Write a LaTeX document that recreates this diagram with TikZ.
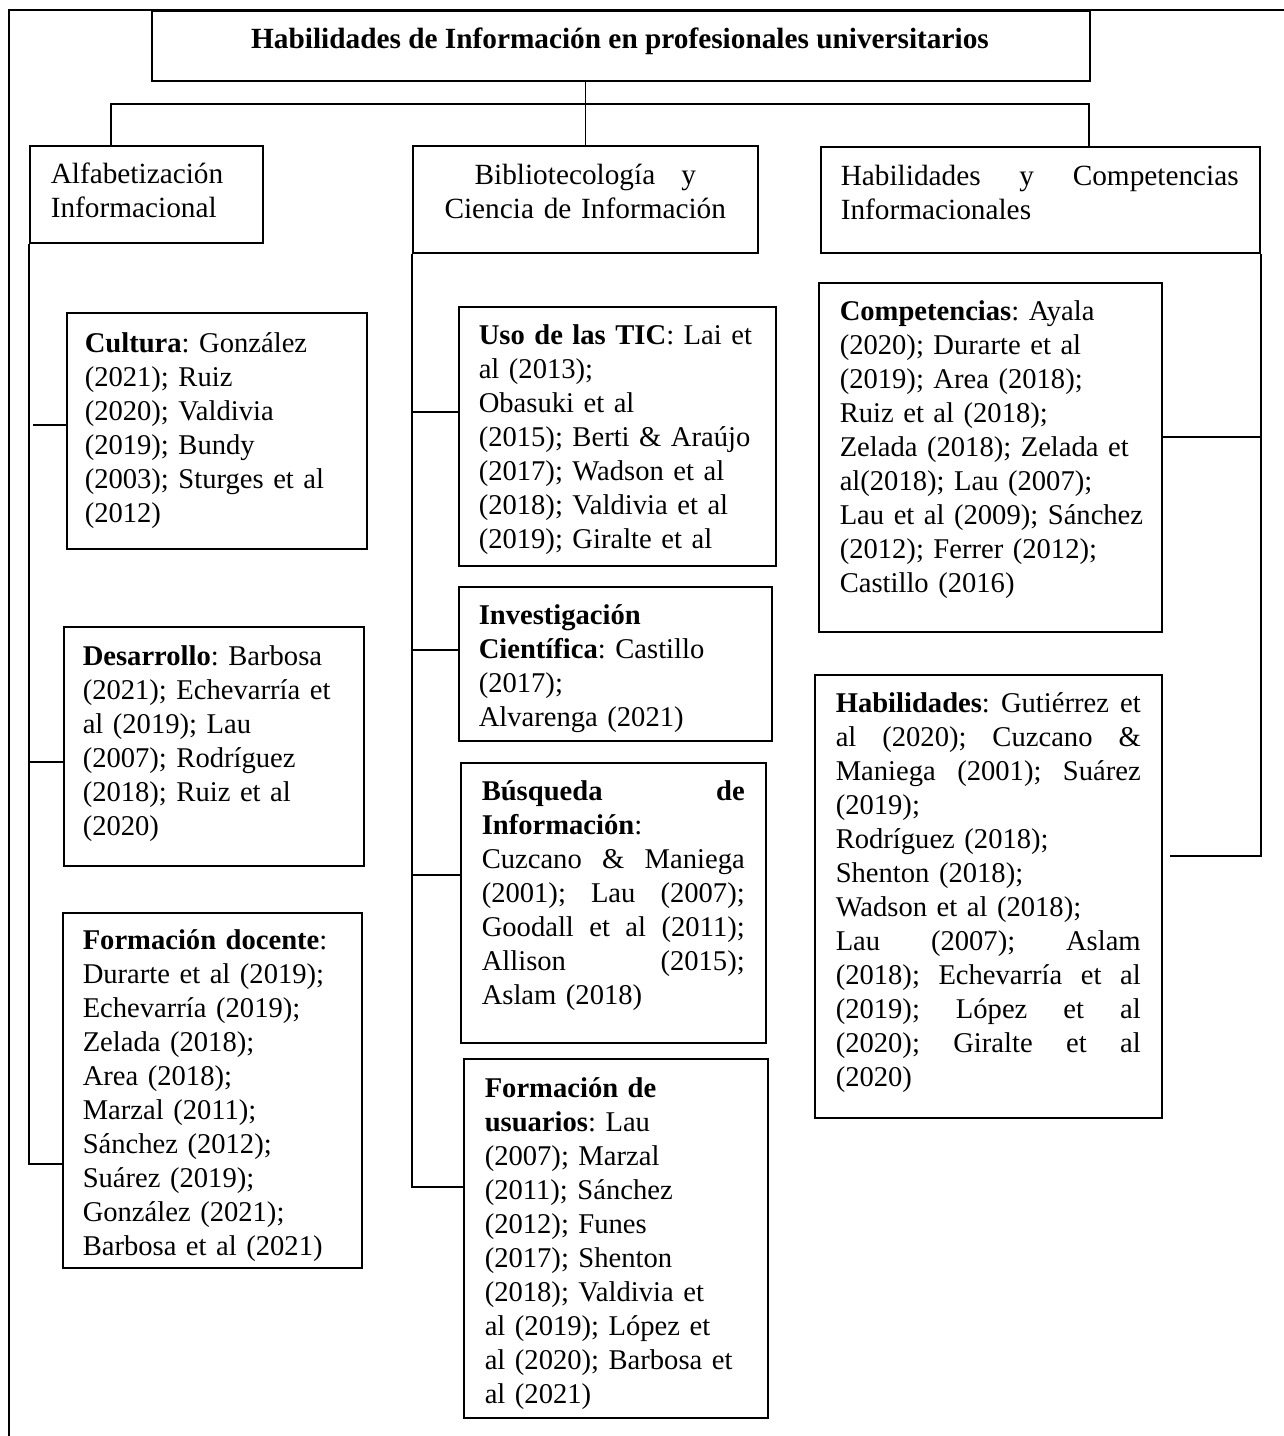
\documentclass[tikz,border=0pt]{standalone}
\usepackage{fontspec}
\setmainfont{Liberation Serif}
\usetikzlibrary{calc}
\frenchspacing
\newcommand{\jl}[2]{\leavevmode\hbox to #1{\spaceskip=0.25em plus 1fil\relax #2}}
\begin{document}
\begin{tikzpicture}[x=1pt,y=-1pt,line width=1.5pt,
  bx/.style={draw,rectangle,inner sep=0pt,anchor=north west,line width=1.8pt},
  tx/.style={anchor=north west,inner sep=0pt,align=left,font=\fontsize{28.6}{34}\selectfont\frenchspacing,
    execute at begin node={\parindent=0pt\rule{0pt}{24pt}}},
  hx/.style={tx,font=\fontsize{29.3}{34}\selectfont\frenchspacing},
  hc/.style={hx,align=center}]
\useasboundingbox (0,0) rectangle (1284,1436);
% outer frame
\draw (9,1436) -- (9,10) -- (1284,10);
% title
\node[bx,minimum width=938pt,minimum height=70pt] (title) at (151,10) {};
\node[anchor=base,inner sep=0pt,font=\fontsize{29.3}{34}\selectfont\bfseries] (titlet) at (620,48)
  {Habilidades de Información en profesionales universitarios};
% level 1
\node[bx,minimum width=233pt,minimum height=97pt] (alfa) at (29,145) {};
\node[hx,text width=200pt] (alfat) at ($(alfa.north west)+(21,14)$) {Alfabetización\\Informacional};
\node[bx,minimum width=345pt,minimum height=107pt] (bib) at (412,145) {};
\node[hc,text width=305pt] (bibt) at ($(bib.north west)+(20,15)$) {Bibliotecología\hspace{26pt}y\\Ciencia de Información};
\node[bx,minimum width=439pt,minimum height=106pt] (habh) at (820,146) {};
\node[hx,text width=398pt] (habht) at ($(habh.north west)+(20,15)$) {\jl{398pt}{Habilidades y Competencias}\\Informacionales};
% left column
\node[bx,minimum width=300pt,minimum height=236pt] (cult) at (66,312) {};
\node[tx,text width=270pt] (cultt) at ($(cult.north west)+(18,16)$)
  {\textbf{Cultura}: González\\(2021); Ruiz\\(2020); Valdivia\\(2019); Bundy\\(2003); Sturges et al\\(2012)};
\node[bx,minimum width=300pt,minimum height=239pt] (des) at (63,626) {};
\node[tx,text width=270pt] (dest) at ($(des.north west)+(19,15)$)
  {\textbf{Desarrollo}: Barbosa\\(2021); Echevarría et\\al (2019); Lau\\(2007); Rodríguez\\(2018); Ruiz et al\\(2020)};
\node[bx,minimum width=299pt,minimum height=355pt] (fdoc) at (62,912) {};
\node[tx,text width=270pt] (fdoct) at ($(fdoc.north west)+(20,13)$)
  {\textbf{Formación docente}:\\Durarte et al (2019);\\Echevarría (2019);\\Zelada (2018);\\Area (2018);\\Marzal (2011);\\Sánchez (2012);\\Suárez (2019);\\González (2021);\\Barbosa et al (2021)};
% middle column
\node[bx,minimum width=317pt,minimum height=259pt] (tic) at (458,306) {};
\node[tx,text width=290pt] (tict) at ($(tic.north west)+(20,14)$)
  {\textbf{Uso de las TIC}: Lai et\\al (2013);\\Obasuki et al\\(2015); Berti \& Araújo\\(2017); Wadson et al\\(2018); Valdivia et al\\(2019); Giralte et al};
\node[bx,minimum width=313pt,minimum height=154pt] (inv) at (458,586) {};
\node[tx,text width=285pt] (invt) at ($(inv.north west)+(20,14)$)
  {\textbf{Investigación}\\\textbf{Científica}: Castillo\\(2017);\\Alvarenga (2021)};
\node[bx,minimum width=305pt,minimum height=280pt] (bus) at (460,762) {};
\node[tx,text width=263pt] (bust) at ($(bus.north west)+(21,14)$)
  {\jl{263pt}{\textbf{Búsqueda} \textbf{de}}\\\textbf{Información}:\\\jl{263pt}{Cuzcano \& Maniega}\\\jl{263pt}{(2001); Lau (2007);}\\\jl{263pt}{Goodall et al (2011);}\\\jl{263pt}{Allison (2015);}\\Aslam (2018)};
\node[bx,minimum width=304pt,minimum height=359pt] (fus) at (463,1058) {};
\node[tx,text width=275pt] (fust) at ($(fus.north west)+(21,15)$)
  {\textbf{Formación de}\\\textbf{usuarios}: Lau\\(2007); Marzal\\(2011); Sánchez\\(2012); Funes\\(2017); Shenton\\(2018); Valdivia et\\al (2019); López et\\al (2020); Barbosa et\\al (2021)};
% right column
\node[bx,minimum width=343pt,minimum height=349pt] (comp) at (818,282) {};
\node[tx,text width=315pt] (compt) at ($(comp.north west)+(21,14)$)
  {\textbf{Competencias}: Ayala\\(2020); Durarte et al\\(2019); Area (2018);\\Ruiz et al (2018);\\Zelada (2018); Zelada et\\al(2018); Lau (2007);\\Lau et al (2009); Sánchez\\(2012); Ferrer (2012);\\Castillo (2016)};
\node[bx,minimum width=347pt,minimum height=443pt] (hab) at (814,674) {};
\node[tx,text width=305pt] (habt) at ($(hab.north west)+(21,14)$)
  {\jl{305pt}{\textbf{Habilidades}: Gutiérrez et}\\\jl{305pt}{al (2020); Cuzcano \&}\\\jl{305pt}{Maniega (2001); Suárez}\\(2019);\\Rodríguez (2018);\\Shenton (2018);\\Wadson et al (2018);\\\jl{305pt}{Lau (2007); Aslam}\\\jl{305pt}{(2018); Echevarría et al}\\\jl{305pt}{(2019); López et al}\\\jl{305pt}{(2020); Giralte et al}\\(2020)};
% connectors
\coordinate (jL) at (111,104);
\coordinate (jR) at (1089,104);
\draw (bib.north |- title.south) -- (bib.north);
\draw (alfa.north -| jL) -- (jL) -- (jR) -- (habh.north -| jR);
\coordinate (yC) at (0,425);
\coordinate (yD) at (0,762);
\coordinate (yF) at (0,1164);
\draw (alfa.south west) -- (alfa.south west |- yF) -- (fdoc.west |- yF);
\draw (alfa.south west |- yD) -- (des.west |- yD);
\draw (cult.west |- yC) -- ++(-33,0);
\coordinate (yT) at (0,412);
\coordinate (yI) at (0,650);
\coordinate (yB) at (0,875);
\coordinate (yU) at (0,1187);
\draw (bib.south west) -- (bib.south west |- yU) -- (fus.west |- yU);
\draw (bib.south west |- yT) -- (tic.west |- yT);
\draw (bib.south west |- yI) -- (inv.west |- yI);
\draw (bib.south west |- yB) -- (bus.west |- yB);
\coordinate (yP) at (0,437);
\coordinate (yH) at (0,856);
\draw (habh.south east) -- (habh.south east |- yH) -- ($(hab.east |- yH)+(7,0)$);
\draw (habh.south east |- yP) -- (comp.east |- yP);
\end{tikzpicture}
\end{document}
